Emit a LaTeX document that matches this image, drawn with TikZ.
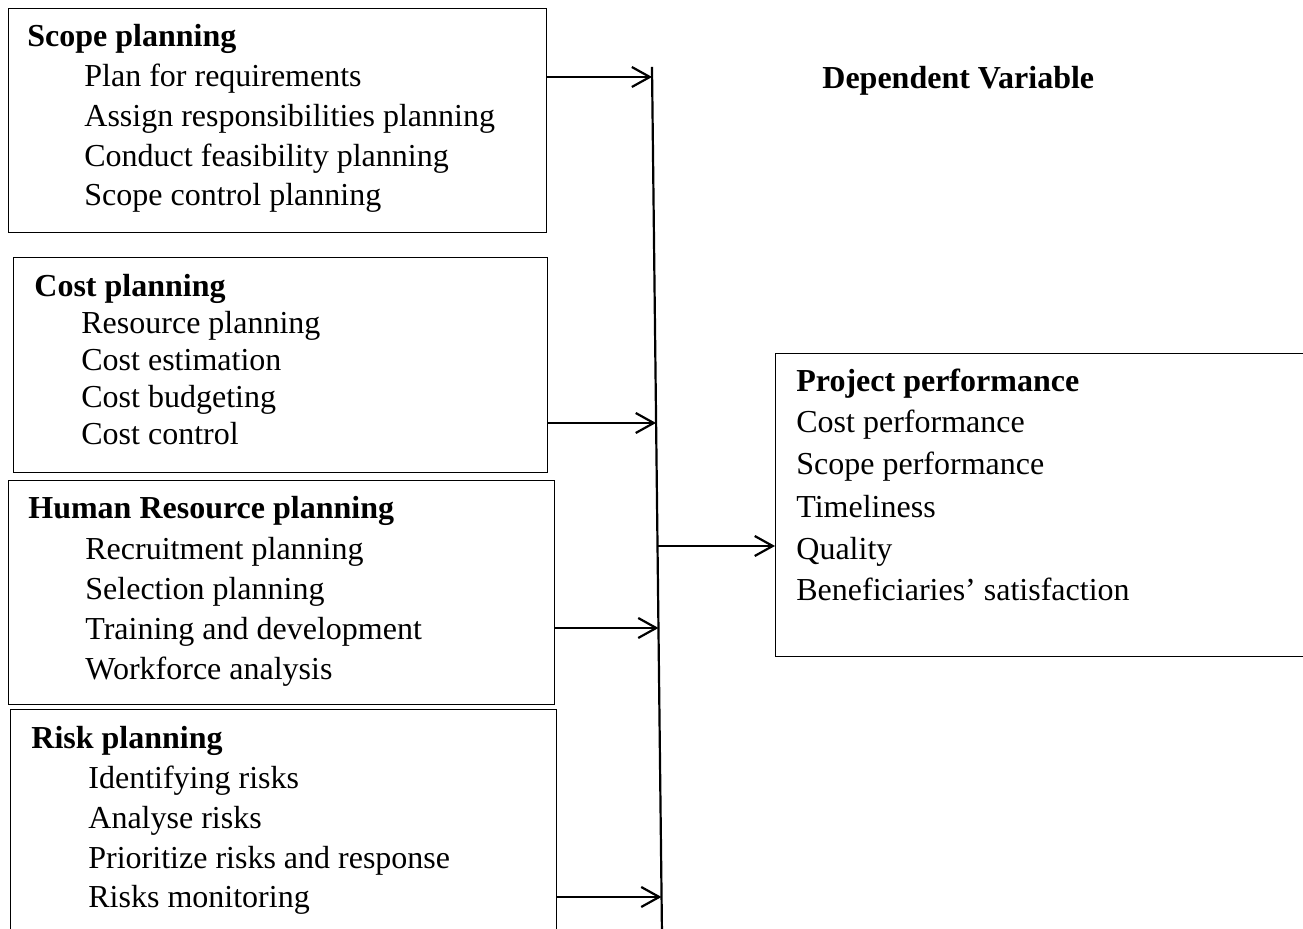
\documentclass[tikz,border=0pt]{standalone}
\usepackage{fontspec}
\setmainfont{Liberation Serif}
\usetikzlibrary{arrows.meta}
\tikzset{
  box/.style={draw, line width=0.7pt, inner sep=0pt, anchor=north west},
  itemtext/.style={anchor=base west, inner sep=0pt, font=\fontsize{16}{20}\selectfont},
  headtext/.style={anchor=base west, inner sep=0pt, font=\fontsize{16}{20}\selectfont\bfseries},
  arr/.style={-{Straight Barb[length=9pt,width=10pt,line width=1.1pt]}, line width=1.1pt},
}
\begin{document}
\begin{tikzpicture}[x=0.5pt,y=-0.5pt]
\useasboundingbox (0,0) rectangle (1303,929);
% boxes
\node[box, minimum width=269pt, minimum height=112pt] (scope) at (8,8) {};
\node[box, minimum width=267pt, minimum height=107.5pt] (cost) at (13,257) {};
\node[box, minimum width=273pt, minimum height=112pt] (hr) at (8,480) {};
\node[box, minimum width=273pt, minimum height=116pt] (risk) at (10,709) {};
\node[box, minimum width=268pt, minimum height=151.5pt] (perf) at (775,353) {};
% scope text
\node[headtext] (s0) at (27,47) {Scope planning};
\node[itemtext] (s1) at (84,87) {Plan for requirements};
\node[itemtext] (s2) at (84,127) {Assign responsibilities planning};
\node[itemtext] (s3) at (84,167) {Conduct feasibility planning};
\node[itemtext] (s4) at (84,206) {Scope control planning};
% cost text
\node[headtext] (c0) at (34,297) {Cost planning};
\node[itemtext] (c1) at (81,334) {Resource planning};
\node[itemtext] (c2) at (81,371) {Cost estimation};
\node[itemtext] (c3) at (81,408) {Cost budgeting};
\node[itemtext] (c4) at (81,445) {Cost control};
% hr text
\node[headtext] (h0) at (28,519) {Human Resource planning};
\node[itemtext] (h1) at (85,560) {Recruitment planning};
\node[itemtext] (h2) at (85,600) {Selection planning};
\node[itemtext] (h3) at (85,640) {Training and development};
\node[itemtext] (h4) at (85,680) {Workforce analysis};
% risk text
\node[headtext] (r0) at (31,749) {Risk planning};
\node[itemtext] (r1) at (88,789) {Identifying risks};
\node[itemtext] (r2) at (88,829) {Analyse risks};
\node[itemtext] (r3) at (88,869) {Prioritize risks and response};
\node[itemtext] (r4) at (88,908) {Risks monitoring};
% performance text
\node[headtext] (p0) at (796,392) {Project performance};
\node[itemtext] (p1) at (796,433) {Cost performance};
\node[itemtext] (p2) at (796,475) {Scope performance};
\node[itemtext] (p3) at (796,518) {Timeliness};
\node[itemtext] (p4) at (796,560) {Quality};
\node[itemtext] (p5) at (796,601) {Beneficiaries’ satisfaction};
% dependent variable
\node[headtext] (dv) at (822,89) {Dependent Variable};
% vertical line
\coordinate (vtop) at (652,67);
\coordinate (vbot) at (662,935);
\draw[line width=1.1pt] (vtop) -- (vbot);
\coordinate (v1) at (652.1,77);
\coordinate (v2) at (656.0,423);
\coordinate (v3) at (657.5,546);
\coordinate (v4) at (658.5,628);
\coordinate (v5) at (661.5,897);
% arrows
\draw[arr] (scope.east |- v1) -- (v1);
\draw[arr] (cost.east |- v2) -- (v2);
\draw[arr] (hr.east |- v4) -- (v4);
\draw[arr] (risk.east |- v5) -- (v5);
\draw[arr] (v3) -- (perf.west |- v3);
\end{tikzpicture}
\end{document}
